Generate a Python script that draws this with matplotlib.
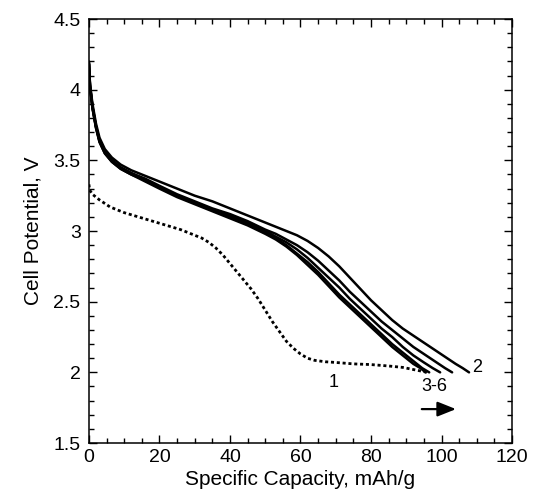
import matplotlib
matplotlib.use('Agg')
import matplotlib.pyplot as plt
from matplotlib.ticker import MultipleLocator

plt.rcParams['font.family'] = ['Liberation Sans', 'DejaVu Sans']

# cycle 1 (dotted)
cap_1 = [0, 0.2, 1, 3, 6, 10, 14, 18, 22, 26, 29, 32, 34, 36, 38, 40, 42, 44,
         46, 48, 50, 52, 54, 56, 58, 60, 62, 64, 67, 70, 75, 80, 85, 89, 92, 94, 96]
volt_1 = [3.33, 3.29, 3.26, 3.22, 3.17, 3.13, 3.10, 3.07, 3.04, 3.01, 2.98, 2.95,
          2.92, 2.88, 2.83, 2.77, 2.71, 2.65, 2.59, 2.52, 2.44, 2.36, 2.29, 2.22,
          2.17, 2.13, 2.10, 2.085, 2.075, 2.07, 2.06, 2.055, 2.045, 2.035, 2.02,
          2.01, 2.00]

# first part of cycles 2-6 (shared x positions)
cap_head = [0, 0.3, 1, 2, 3, 4.5, 6.5, 9, 12, 16, 20, 25, 30, 35, 40, 45]
cap_tail = [50, 53, 56, 59, 62, 65, 68, 71, 74, 77, 80, 83, 86, 89]

# cycle 2
cap_2 = cap_head + cap_tail + [92, 95, 98, 101, 104, 106, 107.8]
volt_2 = [4.20, 4.04, 3.90, 3.76, 3.66, 3.58, 3.52, 3.47, 3.43, 3.39, 3.35, 3.30,
          3.25, 3.21, 3.16, 3.11,
          3.06, 3.03, 3.00, 2.97, 2.93, 2.88, 2.82, 2.75, 2.67, 2.59, 2.51, 2.44,
          2.37, 2.31, 2.26, 2.21, 2.16, 2.11, 2.06, 2.03, 2.00]

# cycles 3-6
cap_3 = cap_head + cap_tail + [92, 95, 98, 101, 103]
volt_3 = [4.19, 4.03, 3.88, 3.74, 3.64, 3.56, 3.50, 3.45, 3.41, 3.37, 3.32, 3.26,
          3.21, 3.16, 3.12, 3.07,
          3.01, 2.98, 2.94, 2.90, 2.85, 2.79, 2.72, 2.65, 2.57, 2.50, 2.43, 2.36,
          2.30, 2.24, 2.18, 2.13, 2.08, 2.03, 2.00]

cap_4 = cap_head + cap_tail + [92, 95, 97.5, 99.6]
volt_4 = [4.19, 4.03, 3.88, 3.74, 3.64, 3.56, 3.50, 3.45, 3.41, 3.36, 3.31, 3.25,
          3.20, 3.15, 3.11, 3.06,
          3.00, 2.96, 2.92, 2.87, 2.81, 2.74, 2.67, 2.60, 2.52, 2.45, 2.38, 2.31,
          2.25, 2.18, 2.12, 2.07, 2.03, 2.00]

cap_5 = cap_head + cap_tail + [92, 94.5, 96.5]
volt_5 = [4.18, 4.02, 3.87, 3.73, 3.63, 3.55, 3.49, 3.44, 3.40, 3.36, 3.31, 3.25,
          3.20, 3.15, 3.10, 3.05,
          2.99, 2.95, 2.90, 2.84, 2.78, 2.71, 2.63, 2.55, 2.48, 2.41, 2.34, 2.27,
          2.20, 2.14, 2.08, 2.03, 2.00]

cap_6 = cap_head + cap_tail + [92, 94, 95.5]
volt_6 = [4.18, 4.02, 3.87, 3.73, 3.63, 3.55, 3.49, 3.44, 3.40, 3.35, 3.30, 3.24,
          3.19, 3.14, 3.09, 3.04,
          2.98, 2.94, 2.89, 2.83, 2.76, 2.69, 2.61, 2.53, 2.46, 2.39, 2.32, 2.25,
          2.18, 2.12, 2.06, 2.03, 2.00]

fig = plt.figure(figsize=(5.39, 4.98), dpi=100)
ax = fig.add_axes([0.165, 0.1104, 0.785, 0.8514])

ax.plot(cap_1, volt_1, color='k', lw=2.0, dashes=(1.1, 1.0))
for c, v in [(cap_2, volt_2), (cap_3, volt_3), (cap_4, volt_4),
             (cap_5, volt_5), (cap_6, volt_6)]:
    ax.plot(c, v, color='k', lw=1.8, solid_capstyle='round',
            solid_joinstyle='round')

ax.text(69.5, 1.93, '1', fontsize=13, ha='center', va='center')
ax.text(97.9, 1.90, '3-6', fontsize=13, ha='center', va='center')
ax.text(110.0, 2.035, '2', fontsize=13, ha='center', va='center')
ax.annotate('', xy=(104.1, 1.74), xytext=(94.4, 1.74),
            arrowprops=dict(arrowstyle='-|>,head_length=0.4,head_width=0.16',
                            mutation_scale=28, lw=1.6, color='k',
                            shrinkA=0, shrinkB=0))

ax.set_xlim(0, 120)
ax.set_ylim(1.5, 4.5)
ax.xaxis.set_major_locator(MultipleLocator(20))
ax.xaxis.set_minor_locator(MultipleLocator(5))
ax.yaxis.set_major_locator(MultipleLocator(0.5))
ax.yaxis.set_minor_locator(MultipleLocator(0.1))
ax.yaxis.set_major_formatter(plt.FuncFormatter(lambda v, p: f'{v:g}'))

ax.tick_params(which='both', direction='in', top=True, right=True, width=1.0,
               labelsize=14)
ax.tick_params(which='major', length=6)
ax.tick_params(which='minor', length=3.3)
ax.tick_params(axis='x', pad=4)
ax.tick_params(axis='y', pad=6)
for s in ax.spines.values():
    s.set_linewidth(1.1)

ax.set_xlabel('Specific Capacity, mAh/g', fontsize=15, labelpad=3)
ax.set_ylabel('Cell Potential, V', fontsize=15, labelpad=8)

fig.savefig('out.png', dpi=100)
